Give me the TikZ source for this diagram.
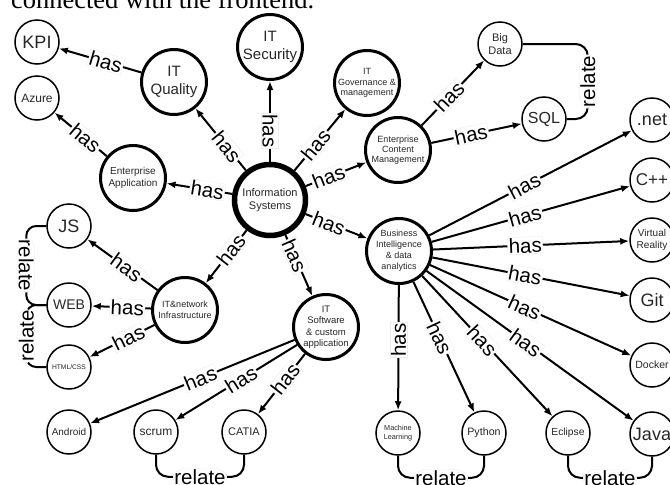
\documentclass[tikz,border=0pt]{standalone}
\usepackage{fontspec}
\setmainfont{Liberation Sans}
\newfontfamily\headfont{Liberation Serif}
\usetikzlibrary{arrows.meta}

\newcommand{\fsz}[2]{\fontsize{#1}{#2}\selectfont}

\begin{document}
\begin{tikzpicture}[x=1pt, y=-1pt, ->, >={Latex[length=9pt, width=7pt]}, line width=2pt,
        topic/.style={draw, circle, minimum size=44pt, inner sep=0pt, line width=1.5pt, align=center, text=black!85},
        area/.style={topic, minimum size=65pt, line width=3pt},
        hub/.style={topic, minimum size=71pt, line width=5.5pt},
        lab/.style={fill=white, draw=black!7, line width=.4pt, inner sep=1pt, font=\fsz{20.5}{24}},
        has/.style={lab, sloped, pos=.44},
        rel/.style={lab}]
        \useasboundingbox (0,0) rectangle (670,485);
        \clip (0,0) rectangle (670,485);

        \node[anchor=base west, inner sep=0pt, font=\headfont\fsz{26.5}{30}] (head) at (10,8) {connected with the frontend.};

        \node[hub, font=\fsz{11}{13.5}] (is) at (270,200) {Information\\Systems};

        \node[area, font=\fsz{15}{18}] (itq) at (174,82) {IT\\Quality};
        \node[area, font=\fsz{15}{18}] (itsec) at (270,47) {IT\\Security};
        \node[area, font=\fsz{9}{10.5}] (itgov) at (367,83) {IT\\Governance \&\\management};
        \node[area, font=\fsz{9}{10}] (ecm) at (398,150) {Enterprise\\Content\\Management};
        \node[area, font=\fsz{10}{12}] (ea) at (133,178) {Enterprise\\Application};
        \node[area, font=\fsz{9}{11}] (bi) at (399,251) {Business\\Intelligence\\\& data\\analytics};
        \node[area, font=\fsz{9}{11.5}] (itn) at (185,310) {IT\&network\\Infrastructure};
        \node[area, font=\fsz{9.5}{11.5}] (its) at (326,327) {IT\\Software\\\& custom\\application};

        \node[topic, font=\fsz{18}{20}] (kpi) at (37,42) {KPI};
        \node[topic, font=\fsz{12}{14}] (azure) at (37,98) {Azure};
        \node[topic, font=\fsz{11}{13}] (bigdata) at (500,44) {Big\\Data};
        \node[topic, font=\fsz{16}{18}] (sql) at (544,119) {SQL};
        \node[topic, font=\fsz{18}{20}] (js) at (69,226) {JS};
        \node[topic, font=\fsz{14}{16}] (web) at (69,305) {WEB};
        \node[topic, font=\fsz{6.7}{8}] (html) at (69,367) {HTML/CSS};
        \node[topic, font=\fsz{10}{12}] (android) at (69,432) {Android};
        \node[topic, font=\fsz{12}{14}] (scrum) at (156,432) {scrum};
        \node[topic, font=\fsz{11}{13}] (catia) at (244,432) {CATIA};
        \node[topic, font=\fsz{7.3}{9}] (ml) at (398,433) {Machine\\Learning};
        \node[topic, font=\fsz{10.7}{12}] (python) at (484,433) {Python};
        \node[topic, font=\fsz{10.3}{12}] (eclipse) at (568,433) {Eclipse};
        \node[topic, font=\fsz{18}{20}] (java) at (652,434) {Java};
        \node[topic, font=\fsz{18}{20}] (net) at (652,120) {.net};
        \node[topic, font=\fsz{17}{19}] (cpp) at (652,180) {C++};
        \node[topic, font=\fsz{10}{11.5}] (vr) at (652,240) {Virtual\\Reality};
        \node[topic, font=\fsz{18}{20}] (git) at (652,300) {Git};
        \node[topic, font=\fsz{10.5}{12}] (docker) at (652,365) {Docker};

        \draw (is) -- node[has, pos=.38]{has} (itq);
        \draw (is) -- node[lab, rotate=-90, pos=.38]{has} (itsec);
        \draw (is) -- node[has, pos=.42]{has} (itgov);
        \draw (is) -- node[has, pos=.38]{has} (ecm);
        \draw (is) -- node[has, pos=.38]{has} (ea);
        \draw (is) -- node[has, pos=.38]{has} (bi);
        \draw (is) -- node[has, pos=.38]{has} (itn);
        \draw (is) -- node[has, pos=.34]{has} (its);

        \draw (itq) -- node[has, pos=.43]{has} (kpi);
        \draw (ea) -- node[has, pos=.41]{has} (azure);
        \draw (ecm) -- node[has]{has} (bigdata);
        \draw (ecm) -- node[has]{has} (sql);
        \draw (itn) -- node[has]{has} (js);
        \draw (itn) -- node[has, pos=.4]{has} (web);
        \draw (itn) -- node[has, pos=.4]{has} (html);
        \draw (its) -- node[has, pos=.46]{has} (android);
        \draw (its) -- node[has, pos=.46]{has} (scrum);
        \draw (its) -- node[has, pos=.42]{has} (catia);

        \draw (bi) -- node[has, pos=.47]{has} (net);
        \draw (bi) -- node[has, pos=.47]{has} (cpp);
        \draw (bi) -- node[has, pos=.47]{has} (vr);
        \draw (bi) -- node[has, pos=.47]{has} (git);
        \draw (bi) -- node[has, pos=.47]{has} (docker);
        \draw (bi) -- node[has, pos=.48]{has} (java);
        \draw (bi) -- node[has, pos=.46]{has} (eclipse);
        \draw (bi) -- node[has, pos=.43]{has} (python);
        \draw (bi) -- node[lab, rotate=90, pos=.44]{has} (ml);

        \draw[-, rounded corners=12pt] (bigdata.east) -| node[rel, rotate=90, pos=.75]{relate} ([xshift=21pt]sql.east) -- (sql.east);
        \draw[-, rounded corners=10pt] (js.west) -- ++(-20,0) |- node[rel, rotate=-90, pos=.25]{relate} (web.west);
        \draw[-, rounded corners=10pt] (web.west) -- ++(-20,0) |- node[rel, rotate=90, pos=.25]{relate} (html.west);
        \draw[-, rounded corners=12pt] (scrum.south) -- ++(0,22) -| node[rel, pos=.25]{relate} (catia.south);
        \draw[-, rounded corners=12pt] (ml.south) -- ++(0,22) -| node[rel, pos=.25]{relate} (python.south);
        \draw[-, rounded corners=12pt] (eclipse.south) -- ++(0,22) -| node[rel, pos=.25]{relate} (java.south);
\end{tikzpicture}
\end{document}
